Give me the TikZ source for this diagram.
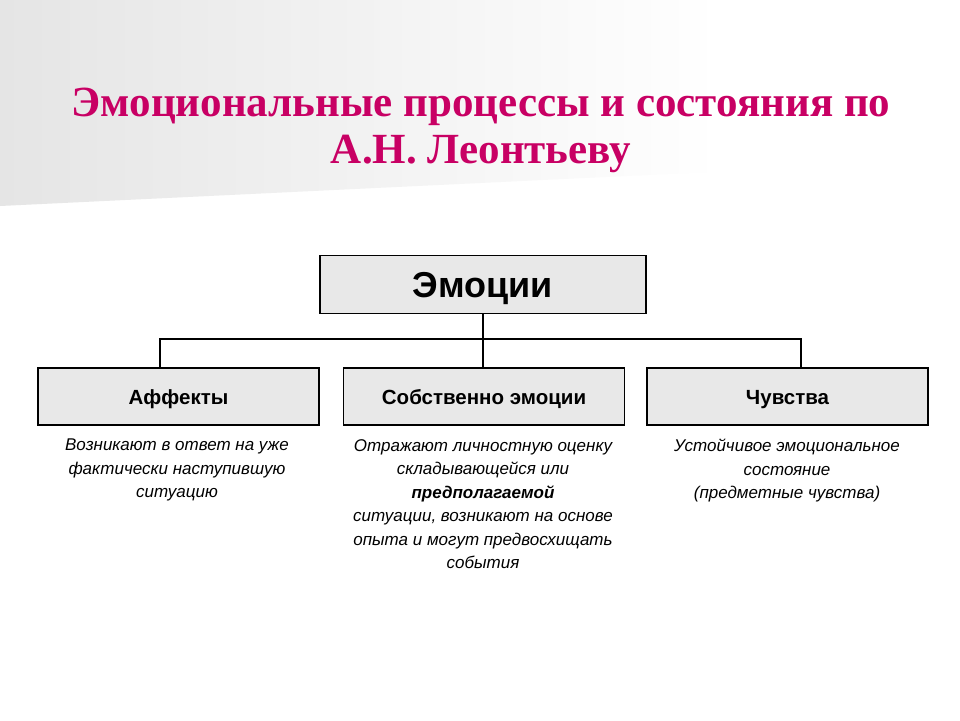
\documentclass[tikz,border=0pt]{standalone}
\usepackage{fontspec}
\setmainfont{Liberation Serif}
\newfontfamily\titlef{Liberation Serif}
\newfontfamily\arialf{Liberation Sans}
\definecolor{titlepink}{RGB}{200,0,100}
\definecolor{boxgray}{RGB}{232,232,232}
\definecolor{bggray}{RGB}{229,229,229}
\tikzset{
  mainbox/.style={draw=black, line width=1.6pt, fill=boxgray, minimum width=326pt, minimum height=58pt, inner sep=0pt,
    text height=26pt, text depth=0pt,
    font=\arialf\bfseries\fontsize{36}{40}\selectfont},
  subbox/.style={draw=black, line width=1.6pt, fill=boxgray, minimum width=281pt, minimum height=57pt, inner sep=0pt,
    text height=15pt, text depth=0pt,
    font=\arialf\bfseries\fontsize{20.5}{24}\selectfont},
  desc/.style={align=center, inner sep=0pt, anchor=north, text=black,
    font=\arialf\itshape\fontsize{17}{23.5}\selectfont},
  conn/.style={draw=black, line width=1.4pt},
}
\begin{document}
\begin{tikzpicture}[x=1pt,y=-1pt]
\useasboundingbox (0,0) rectangle (960,720);
\fill[white] (0,0) rectangle (960,720);
% background gradient band
\begin{scope}
  \clip (0,0) -- (960,0) -- (960,160) -- (0,206) -- cycle;
  \shade[left color=bggray, right color=white] (0,0) rectangle (720,210);
\end{scope}
% title
\node[text=titlepink, align=center, inner sep=0pt, font=\titlef\bfseries\fontsize{43}{47}\selectfont] (title) at (481,130)
  {Эмоциональные процессы и состояния по\\А.Н. Леонтьеву};
% boxes
\node[mainbox] (top) at (483,284.5) {Эмоции};
\node[subbox] (a1) at (178.5,396.5) {Аффекты};
\node[subbox] (a2) at (484,396.5) {Собственно эмоции};
\node[subbox] (a3) at (787.5,396.5) {Чувства};
% connectors
\coordinate (hj) at (483,339);
\coordinate (b1) at (160,368);
\coordinate (b3) at (801,368);
\draw[conn] (top.south) -- (hj);
\draw[conn] (b1) |- (hj) -| (b3);
\draw[conn] (hj) -- (hj |- a2.north);
% descriptions
\node[desc] (d1) at (177,439) {Возникают в ответ на уже\\фактически наступившую\\ситуацию};
\node[desc] (d2) at (483,439) {Отражают личностную оценку\\складывающейся или\\\textbf{предполагаемой}\\ситуации, возникают на основе\\опыта и могут предвосхищать\\события};
\node[desc] (d3) at (787,439) {Устойчивое эмоциональное\\состояние\\(предметные чувства)};
\end{tikzpicture}
\end{document}
